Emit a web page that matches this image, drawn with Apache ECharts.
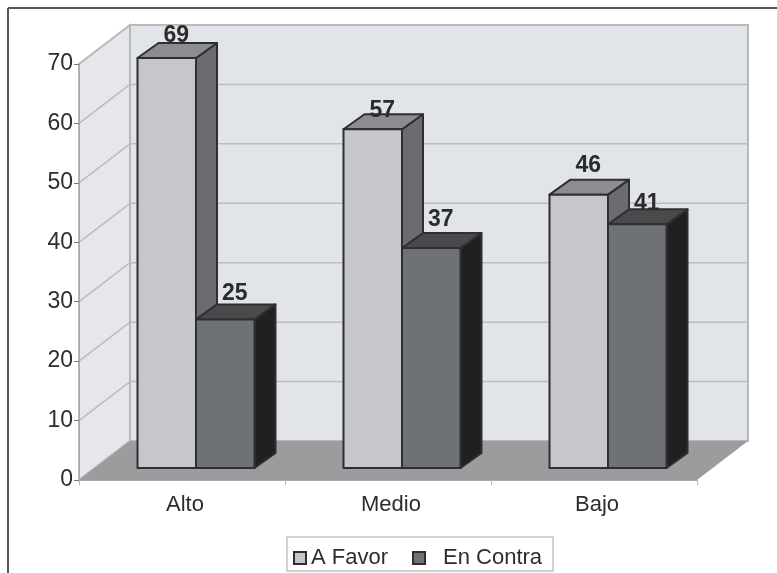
<!DOCTYPE html>
<html>
<head>
<meta charset="utf-8">
<style>html,body{margin:0;padding:0;background:#fff}#c{width:777px;height:573px}</style>
<script src="https://cdn.jsdelivr.net/npm/echarts@6/dist/echarts.min.js"></script>
</head>
<body>
<div id="c"></div>
<script>
const categories = ['Alto', 'Medio', 'Bajo'];
const aFavor = [69, 57, 46];
const enContra = [25, 37, 41];
const yTicks = [0, 10, 20, 30, 40, 50, 60, 70];

const FONT = '"Liberation Sans", Arial, sans-serif';
const WALL_DX = 51, WALL_DY = 39;
const BAR_SHIFT_X = 14, BAR_SHIFT_Y = 12, BAR_W = 58.5, BAR_DX = 21, BAR_DY = 15;
const labelLiftA = [22, 19, 29], labelLiftB = [26, 28, 21];

function wallItem(params, api) {
  const cs = params.coordSys;
  const x0 = cs.x, x1 = cs.x + cs.width;
  const y0 = api.coord([0, 0])[1], yt = api.coord([0, 70])[1];
  return { type: 'group', children: [
    { type: 'polygon', shape: { points: [[x0, y0], [x0 + WALL_DX, y0 - WALL_DY], [x0 + WALL_DX, yt - WALL_DY], [x0, yt]] },
      style: { fill: '#e6e7ea', stroke: '#b8b8ba', lineWidth: 2 } },
    { type: 'rect', shape: { x: x0 + WALL_DX, y: yt - WALL_DY, width: x1 - x0, height: y0 - yt },
      style: { fill: '#e1e4e8', stroke: '#b8b8ba', lineWidth: 2 } },
    { type: 'polygon', shape: { points: [[x0, y0], [x1, y0], [x1 + WALL_DX, y0 - WALL_DY], [x0 + WALL_DX, y0 - WALL_DY]] },
      style: { fill: '#9c9c9e' } }
  ] };
}

function gridItem(params, api) {
  const cs = params.coordSys;
  const x0 = cs.x, x1 = cs.x + cs.width;
  const y = api.coord([0, api.value(1)])[1];
  const st = { stroke: '#bcbcbf', lineWidth: 1.5, fill: 'none' };
  return { type: 'group', children: [
    { type: 'line', shape: { x1: x0, y1: y, x2: x0 + WALL_DX, y2: y - WALL_DY }, style: st },
    { type: 'line', shape: { x1: x0 + WALL_DX, y1: y - WALL_DY, x2: x1 + WALL_DX, y2: y - WALL_DY }, style: st }
  ] };
}

function barRenderer(dir, front, side, top, lifts) {
  return function (params, api) {
    const i = api.value(0), v = api.value(1);
    const center = api.coord([i, 0])[0] + BAR_SHIFT_X;
    const yb = api.coord([i, 0])[1] - BAR_SHIFT_Y;
    const yt = api.coord([i, v])[1] - BAR_SHIFT_Y;
    const xl = dir < 0 ? center - BAR_W : center;
    const xr = xl + BAR_W;
    const edge = { stroke: '#2f2e33', lineWidth: 2, lineJoin: 'round' };
    return { type: 'group', children: [
      { type: 'polygon', shape: { points: [[xr, yt], [xr + BAR_DX, yt - BAR_DY], [xr + BAR_DX, yb - BAR_DY], [xr, yb]] },
        style: Object.assign({ fill: side }, edge) },
      { type: 'polygon', shape: { points: [[xl, yt], [xl + BAR_DX, yt - BAR_DY], [xr + BAR_DX, yt - BAR_DY], [xr, yt]] },
        style: Object.assign({ fill: top }, edge) },
      { type: 'rect', shape: { x: xl, y: yt, width: BAR_W, height: yb - yt },
        style: Object.assign({ fill: front }, edge) },
      { type: 'text', z2: 50, style: { text: String(v), x: (xl + xr) / 2 + 9.5, y: yt - lifts[i],
        align: 'center', verticalAlign: 'middle', fill: '#2b2b2d',
        font: 'bold 23px ' + FONT } }
    ] };
  };
}

const chart = echarts.init(document.getElementById('c'), null, { renderer: 'canvas' });
chart.setOption({
  animation: false,
  backgroundColor: '#ffffff',
  grid: { left: 79, right: 80, top: 64, bottom: 93 },
  xAxis: {
    type: 'category', data: categories, boundaryGap: true,
    axisLine: { lineStyle: { color: '#a8a8aa', width: 1 } },
    axisTick: { show: true, length: 5, lineStyle: { color: '#b8b8ba' } },
    axisLabel: { color: '#2d2d2f', fontFamily: FONT, fontSize: 22, margin: 14, padding: [0, 0, 0, 6] },
    z: 1
  },
  yAxis: {
    type: 'value', min: 0, max: 70, interval: 10,
    splitLine: { show: false },
    axisLine: { show: true, lineStyle: { color: '#a8a8aa', width: 1 } },
    axisTick: { show: true, length: 5, lineStyle: { color: '#77777a' } },
    axisLabel: { color: '#2d2d2f', fontFamily: FONT, fontSize: 23, margin: 6 },
    z: 1
  },
  legend: [
    { data: ['A Favor'], left: 293, top: 547, padding: 0, itemWidth: 12, itemHeight: 12, icon: 'rect', itemGap: 0,
      textStyle: { color: '#2d2d2f', fontFamily: FONT, fontSize: 22 } },
    { data: ['En Contra'], left: 412, top: 547, padding: 0, itemWidth: 12, itemHeight: 12, icon: 'rect', itemGap: 0,
      formatter: '{p|En Contra}',
      textStyle: { color: '#2d2d2f', fontFamily: FONT, fontSize: 22,
        rich: { p: { padding: [0, 0, 0, 13], color: '#2d2d2f', fontFamily: FONT, fontSize: 22 } } } }
  ],
  graphic: [
    { type: 'line', silent: true, shape: { x1: 8, y1: 8, x2: 777, y2: 8 }, style: { stroke: '#58585a', lineWidth: 2 } },
    { type: 'line', silent: true, shape: { x1: 8, y1: 8, x2: 8, y2: 573 }, style: { stroke: '#58585a', lineWidth: 2 } },
    { type: 'rect', silent: true, z: -1, shape: { x: 287, y: 537, width: 266, height: 34 },
      style: { fill: '#ffffff', stroke: '#c4c4c6', lineWidth: 1.5 } }
  ],
  series: [
    { type: 'custom', name: 'walls', silent: true, renderItem: wallItem, data: [[0, 0]], z: 0 },
    { type: 'custom', name: 'gridlines', silent: true, renderItem: gridItem,
      data: yTicks.slice(1).map(t => [0, t]), z: 0 },
    { type: 'custom', name: 'A Favor', renderItem: barRenderer(-1, '#c6c7cb', '#6b6b70', '#8d8d91', labelLiftA),
      encode: { x: 0, y: 1 }, data: aFavor.map((v, i) => [i, v]), z: 3,
      itemStyle: { color: '#c6c7cb', borderColor: '#2f2e33', borderWidth: 1.5 } },
    { type: 'custom', name: 'En Contra', renderItem: barRenderer(1, '#6f7274', '#221f20', '#4a4a4c', labelLiftB),
      encode: { x: 0, y: 1 }, data: enContra.map((v, i) => [i, v]), z: 4,
      itemStyle: { color: '#6f7274', borderColor: '#2f2e33', borderWidth: 1.5 } }
  ]
});
</script>
</body>
</html>
